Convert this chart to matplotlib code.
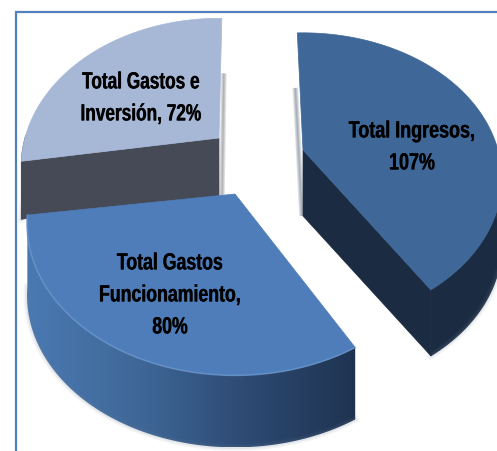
import numpy as np
import matplotlib
matplotlib.use("Agg")
import matplotlib.pyplot as plt
from matplotlib.patches import Polygon
from matplotlib.colors import LinearSegmentedColormap
from matplotlib.transforms import Affine2D
import matplotlib.patheffects as pe

# data
labels = ["Total Ingresos,\n107%", "Total Gastos\nFuncionamiento,\n80%", "Total Gastos e\nInversión, 72%"]
values = [107, 80, 72]

# style / layout
top_colors = ["#3f6899", "#4e7dba", "#a7b8d7"]
cut_colors = ["#1b2b42", "#1f3350", "#454a56"]
rim_stops = [["#1b2b42", "#1b2b42"], ["#4a79b2", "#3f6898", "#2d4a73", "#1f3350"], ["#454a56", "#454a56"]]
apexes = [(303, 150), (235, 194), (219, 138)]
depths = [66, 72, 58]
radii_x = [195, 204, 194]
radii_y = [140, 146, 143]
rotations = [2, -2, -1]
text_pos = [(412, 147), (170, 295), (141, 98)]
text_squeeze = [0.76, 0.75, 0.73]
K = 0.195
START = 90.0

fig = plt.figure(figsize=(4.97, 4.51), dpi=100, facecolor="white")
ax = fig.add_axes([0, 0, 1, 1])
ax.set_xlim(0, 497)
ax.set_ylim(451, 0)
ax.axis("off")


class Squeeze(pe.AbstractPathEffect):
    """Narrow the glyphs horizontally about the label's centre and thicken them slightly."""

    def __init__(self, cx, sx):
        super().__init__()
        self.cx, self.sx = cx, sx

    def draw_path(self, renderer, gc, tpath, affine, rgbFace=None):
        a = affine + Affine2D().translate(-self.cx, 0).scale(self.sx, 1).translate(self.cx, 0)
        for dx in (-0.3, 0.3):
            renderer.draw_path(gc, tpath, a + Affine2D().translate(dx, 0), rgbFace)


def project(theta, i):
    t = np.radians(theta + rotations[i])
    x, y = np.cos(t), np.sin(t)
    w = 1 + K * y
    ax_, ay_ = apexes[i]
    return np.column_stack([ax_ + radii_x[i] * x / w, ay_ - radii_y[i] * y / w])


def soft_line(p, q, color, widths=(4, 2.5, 1), alpha=0.14, z=1):
    for lw in widths:
        ax.plot([p[0], q[0]], [p[1], q[1]], color=color, lw=lw, alpha=alpha,
                solid_capstyle="butt", zorder=z)


# wedge angles from values, clockwise from START
fractions = np.array(values) / np.sum(values)
edges = START - np.concatenate([[0], np.cumsum(fractions) * 360])

# paint order: back wedge, then right wedge, then front wedge
for i in [2, 0, 1]:
    a0, a1 = edges[i], edges[i + 1]
    apex = np.array(apexes[i], dtype=float)
    depth = np.array([0, depths[i]])
    base = 10 * (i + 1) if i != 2 else 2
    angles = np.linspace(a0, a1, 200)
    arc = project(angles, i)
    top = np.vstack([[apex], arc])

    # outer rim: only the part that faces the viewer
    lower = np.sin(np.radians(angles + rotations[i])) < 0.02
    if lower.any():
        r = arc[lower]
        rim = np.vstack([r, (r + depth)[::-1]])
        if len(set(rim_stops[i])) == 1:
            ax.add_patch(Polygon(rim, closed=True, fc=rim_stops[i][0], ec=rim_stops[i][0],
                                 lw=0.6, zorder=base))
        else:
            poly = Polygon(rim, closed=True, facecolor="none", edgecolor="none")
            ax.add_patch(poly)
            cmap = LinearSegmentedColormap.from_list("rim", rim_stops[i])
            grad = np.linspace(0, 1, 256).reshape(1, -1)
            im = ax.imshow(grad, cmap=cmap, aspect="auto",
                           extent=[rim[:, 0].min(), rim[:, 0].max(), rim[:, 1].max(), rim[:, 1].min()],
                           zorder=base)
            im.set_clip_path(poly)
        for w_, al in [(5, 0.08), (2.5, 0.12)]:
            ax.plot((r + depth)[:, 0], (r + depth)[:, 1], color="#6f7f95", lw=w_, alpha=al, zorder=base)

    # straight cut face visible towards the viewer
    if i == 0:
        corner = arc[-1]
        ax.add_patch(Polygon([apex, corner, corner + depth, apex + depth],
                             closed=True, fc=cut_colors[i], ec=cut_colors[i], lw=0.5, zorder=base + 1))
        tip = arc[0]
        soft_line(tip + [-2, 55], apex + [-1, depth[1]], "#1b2b42", z=base)
    if i == 2:
        corner = arc[0]
        ax.add_patch(Polygon([apex, corner, corner + depth, apex + depth],
                             closed=True, fc=cut_colors[i], ec=cut_colors[i], lw=0.5, zorder=base + 1))
        tip = arc[-1]
        soft_line(tip + [2, 55], apex + [3, depth[1]], "#30343d", z=base)

    ax.add_patch(Polygon(top, closed=True, fc=top_colors[i], ec=top_colors[i], lw=0.5, zorder=base + 2))

    if i == 1:
        ax.plot(arc[:, 0], arc[:, 1], color="#6d9ad0", lw=1.2, alpha=0.6, zorder=base + 2)

# frame
ax.plot([15.5, 15.5, 497], [451, 11.5, 11.5], color="#4f81bd", lw=1.6, zorder=50,
        solid_joinstyle="miter")

for lab, (x, y), sq in zip(labels, text_pos, text_squeeze):
    ax.text(x, y, lab, ha="center", va="center", fontsize=17, fontweight="bold",
            family=["Liberation Sans", "DejaVu Sans"],
            linespacing=1.5, color="black", zorder=60,
            path_effects=[Squeeze(x, sq)])

fig.savefig("out.png", dpi=100, facecolor="white")
